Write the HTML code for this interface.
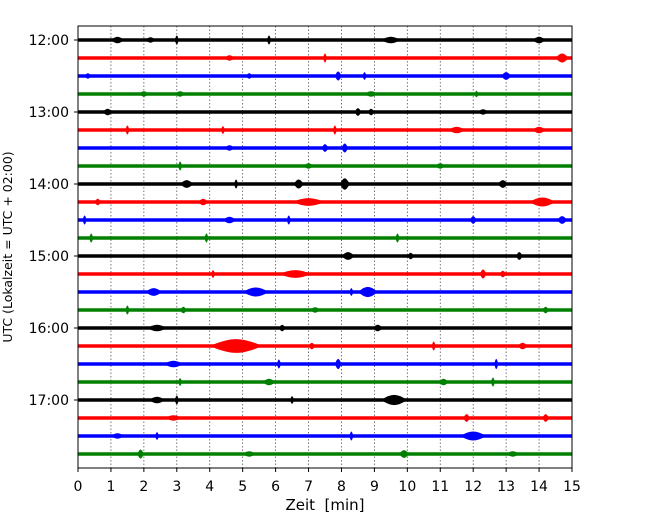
<!DOCTYPE html>
<html><head><meta charset="utf-8"><style>
body{margin:0;background:#fff}
svg text{font-family:"DejaVu Sans","Liberation Sans",sans-serif;font-size:14px;fill:#000}
</style></head><body>
<svg id="chart" width="650" height="520" xmlns="http://www.w3.org/2000/svg">
<g id="grid"></g>
<g id="traces"></g>
<rect x="78" y="26" width="494" height="442" fill="none" stroke="#000" stroke-width="1"/>
<g id="axes"></g>
<text x="325" y="510" text-anchor="middle" style="font-size:15px">Zeit&#160; [min]</text>
<text transform="translate(12,247) rotate(-90)" text-anchor="middle" style="font-size:12.5px">UTC (Lokalzeit = UTC + 02:00)</text>
</svg>
<script>
const xTicks=[0,1,2,3,4,5,6,7,8,9,10,11,12,13,14,15];
const yTickLabels=["12:00","13:00","14:00","15:00","16:00","17:00"];
const traceColors=["#000000","#ff0000","#0000ff","#008000"];
// events per trace: [minute, amplitude(px), duration(min)]
const events=[
[[1.2,3,.4],[2.2,2,.3],[3.0,5,.1],[5.8,5,.1],[9.5,3,.6],[14.0,3,.4]],
[[7.5,5,.1],[14.7,5,.4],[4.6,2,.3]],
[[7.9,5,.2],[8.7,4,.1],[13.0,4,.3],[5.2,2,.2],[.3,2,.2]],
[[2.0,2,.3],[3.1,2,.3],[8.9,2,.4],[12.1,3,.1]],
[[.9,3,.3],[8.5,4,.2],[8.9,3,.2],[12.3,2,.3]],
[[1.5,5,.1],[4.4,4,.1],[7.8,5,.1],[11.5,3,.5],[14.0,3,.4]],
[[7.5,4,.2],[8.1,5,.2],[4.6,2,.3]],
[[3.1,5,.1],[7.0,2,.3],[11.0,2,.3]],
[[3.3,4,.4],[4.8,5,.1],[6.7,5,.3],[8.1,7,.3],[12.9,4,.3]],
[[.6,3,.2],[3.8,3,.3],[7.0,4,1.0],[14.1,5,.8]],
[[.2,5,.1],[4.6,3,.4],[6.4,5,.1],[12.0,4,.2],[14.7,4,.3]],
[[.4,5,.1],[3.9,5,.1],[9.7,5,.1]],
[[8.2,4,.4],[10.1,3,.2],[13.4,4,.2]],
[[4.1,4,.1],[6.6,4,1.0],[12.3,5,.2],[12.9,3,.2]],
[[2.3,4,.5],[5.4,5,.8],[8.3,4,.1],[8.8,6,.6]],
[[1.5,5,.1],[3.2,3,.2],[7.2,2,.3],[14.2,3,.2]],
[[2.4,3,.6],[6.2,3,.2],[9.1,3,.3]],
[[4.8,9,1.6],[7.1,3,.2],[10.8,5,.1],[13.5,3,.3]],
[[2.9,3,.6],[6.1,5,.1],[7.9,6,.2],[12.7,6,.1]],
[[3.1,4,.1],[5.8,3,.4],[11.1,3,.3],[12.6,5,.1]],
[[2.4,3,.5],[3.0,5,.1],[6.5,4,.1],[9.6,6,.8]],
[[2.9,2,.5],[11.8,4,.2],[14.2,4,.2]],
[[1.2,2,.4],[2.4,4,.1],[8.3,5,.1],[12.0,5,.8]],
[[1.9,5,.2],[5.2,2,.4],[9.9,4,.3],[13.2,2,.4]]
];
const NS="http://www.w3.org/2000/svg";
const X0=78,X1=572,Y0=40,DY=18;
const xs=m=>X0+(X1-X0)*m/15;
const ys=i=>Y0+DY*i;
const grid=document.getElementById('grid'),tr=document.getElementById('traces'),ax=document.getElementById('axes');
function mk(tag,attrs,parent){const e=document.createElementNS(NS,tag);for(const k in attrs)e.setAttribute(k,attrs[k]);parent.appendChild(e);return e;}
xTicks.forEach(t=>{
  if(t>0&&t<15){const g=mk('line',{x1:xs(t),x2:xs(t),y1:26,y2:468,stroke:'#555','stroke-width':.8,'stroke-dasharray':'1.5,2'},grid);
  
  }
  const tk=mk('line',{x1:xs(t),x2:xs(t),y1:468,y2:472,stroke:'#000'},ax);
  
  
  const lb=mk('text',{x:xs(t),y:491,'text-anchor':'middle'},ax);lb.textContent=t;
  
  
});
yTickLabels.forEach((l,k)=>{
  const y=ys(k*4);
  const tk=mk('line',{x1:74,x2:78,y1:y,y2:y,stroke:'#000'},ax);
  
  
  const lb=mk('text',{x:69,y:y+5,'text-anchor':'end'},ax);lb.textContent=l;
  
  
});
events.forEach((ev,i)=>{
  const y=ys(i),c=traceColors[i%4];
  const g=mk('g',{},tr);
  
  
  mk('rect',{x:X0,y:y-1.75,width:X1-X0,height:3.5,fill:c},g);
  ev.forEach(e=>{
    const [m,a,d]=e;const cx=xs(m),hw=Math.max(2,(X1-X0)*d/30),h=a*0.6+1.5;
    const p=mk('path',{d:`M${cx-hw},${y} Q${cx-hw*0.4},${y-h} ${cx},${y-h} Q${cx+hw*0.4},${y-h} ${cx+hw},${y} Q${cx+hw*0.4},${y+h} ${cx},${y+h} Q${cx-hw*0.4},${y+h} ${cx-hw},${y}Z`,fill:c},g);
    
    
  });
});
</script>
</body></html>
